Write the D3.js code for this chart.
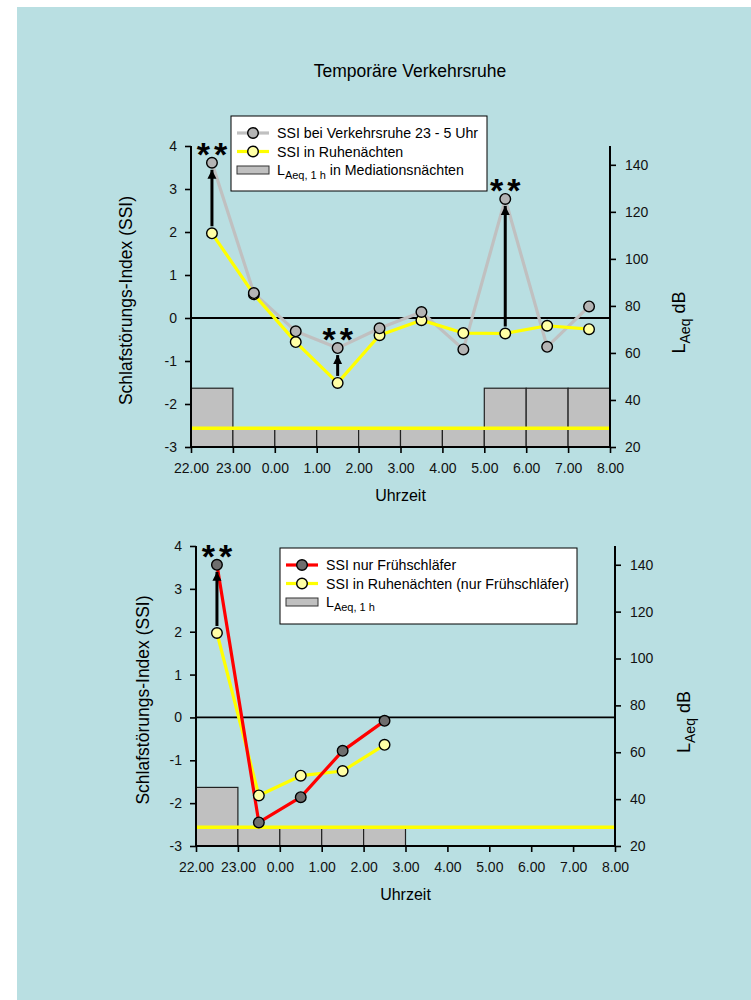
<!DOCTYPE html>
<html>
<head>
<meta charset="utf-8">
<script src="https://cdn.jsdelivr.net/npm/d3@7"></script>
<style>
  body { margin: 0; background: #fff; }
  svg { display: block; font-family: "Liberation Sans", Arial, sans-serif; }
</style>
</head>
<body>
<svg id="chart" width="751" height="1000"></svg>
<script>

// hour slots from 22.00 to 8.00, values sit in the middle of each hour
var tickLabels = ["22.00","23.00","0.00","1.00","2.00","3.00","4.00","5.00","6.00","7.00","8.00"];
var ssiTicks = [-3,-2,-1,0,1,2,3,4];
var dbTicks = [20,40,60,80,100,120,140];

// top panel
var ssiVerkehrsruhe = [3.61, 0.58, -0.31, -0.70, -0.24, 0.14, -0.73, 2.77, -0.67, 0.27];
var ssiRuhe = [1.97, 0.55, -0.56, -1.51, -0.40, -0.05, -0.35, -0.36, -0.18, -0.26];
var laeqMediation = [45, 28, 28, 28, 28, 28, 28, 45, 45, 45];
var sigTop = [0, 3, 7];

// bottom panel
var ssiFrueh = [3.56, -2.45, -1.86, -0.78, -0.08];
var ssiRuheFrueh = [1.97, -1.82, -1.36, -1.25, -0.64];
var laeqFrueh = [45, 28, 28, 28, 28];
var sigBottom = [0];

var ruhePegel = 28; // LAeq level of the quiet nights (yellow line)

var svg = d3.select('#chart');

svg.append('rect')
  .attr('x', 17).attr('y', 7)
  .attr('width', 751 - 17).attr('height', 1000 - 7)
  .attr('fill', '#b9dfe2');

svg.append('text')
  .attr('x', 410).attr('y', 77)
  .attr('text-anchor', 'middle')
  .attr('font-size', 17.5)
  .text('Temporäre Verkehrsruhe');

var defs = svg.append('defs');
defs.append('marker')
  .attr('id', 'arrow')
  .attr('viewBox', '0 0 10 10')
  .attr('refX', 10).attr('refY', 5)
  .attr('markerWidth', 3).attr('markerHeight', 3.6)
  .attr('markerUnits', 'strokeWidth')
  .attr('orient', 'auto')
  .append('path')
    .attr('d', 'M0,0 L10,5 L0,10 Z')
    .attr('fill', '#000');

function drawPanel(opt) {

  var g = svg.append('g');
  var x = d3.scaleLinear().domain([0, 10]).range([opt.left, opt.right]);
  var y = d3.scaleLinear().domain([-3, 4]).range([opt.bottom, opt.top]);
  var yDb = d3.scaleLinear().domain([20, 148]).range([opt.bottom, opt.top]);
  var cx = function(d, i) { return x(i + 0.5); };

  // LAeq bars
  g.selectAll('.bar')
    .data(opt.bars).enter()
    .append('rect')
      .attr('class', 'bar')
      .attr('x', function(d, i) { return x(i); })
      .attr('y', function(d) { return yDb(d); })
      .attr('width', x(1) - x(0))
      .attr('height', function(d) { return yDb(20) - yDb(d); })
      .attr('fill', '#c0c0c0')
      .attr('stroke', '#222')
      .attr('stroke-width', 1.2);

  // quiet night level
  g.append('line')
    .attr('x1', opt.left).attr('x2', opt.right)
    .attr('y1', yDb(ruhePegel)).attr('y2', yDb(ruhePegel))
    .attr('stroke', '#ffff00')
    .attr('stroke-width', 3.5);

  // zero line
  g.append('line')
    .attr('x1', opt.left).attr('x2', opt.right)
    .attr('y1', y(0)).attr('y2', y(0))
    .attr('stroke', '#000')
    .attr('stroke-width', 1.8);

  // axes
  var xAxis = g.append('g')
    .attr('transform', 'translate(0,' + opt.bottom + ')')
    .call(d3.axisBottom(x).tickValues(d3.range(0, 11))
      .tickFormat(function(d) { return tickLabels[d]; })
      .tickSize(6).tickPadding(10));
  var yAxis = g.append('g')
    .attr('transform', 'translate(' + opt.left + ',0)')
    .call(d3.axisLeft(y).tickValues(ssiTicks)
      .tickFormat(function(d) { return String(d); })
      .tickSize(6).tickPadding(8));
  var dbAxis = g.append('g')
    .attr('transform', 'translate(' + opt.right + ',0)')
    .call(d3.axisRight(yDb).tickValues(dbTicks)
      .tickSize(6).tickPadding(9));

  [xAxis, yAxis, dbAxis].forEach(function(a) {
    a.attr('font-family', null).attr('font-size', 14);
    a.selectAll('text').attr('fill', '#111');
    a.selectAll('path').attr('stroke', '#000').attr('stroke-width', 2);
    a.selectAll('line').attr('stroke', '#000').attr('stroke-width', 1.6);
  });
  // plain axis lines without end caps
  xAxis.select('.domain').attr('d', 'M' + opt.left + ',0H' + opt.right);
  yAxis.select('.domain').attr('d', 'M0,' + opt.top + 'V' + opt.bottom);
  dbAxis.select('.domain').attr('d', 'M0,' + opt.top + 'V' + opt.bottom);

  // axis titles
  g.append('text')
    .attr('x', (opt.left + opt.right) / 2).attr('y', opt.bottom + 54)
    .attr('text-anchor', 'middle')
    .attr('font-size', 16)
    .text('Uhrzeit');

  g.append('text')
    .attr('transform', 'translate(' + opt.yLabelX + ',' + ((opt.top + opt.bottom) / 2 + 4) + ') rotate(-90)')
    .attr('text-anchor', 'middle')
    .attr('font-size', 17.5)
    .text('Schlafstörungs-Index (SSI)');

  var dbLabel = g.append('text')
    .attr('transform', 'translate(' + opt.dbLabelX + ',' + ((opt.top + opt.bottom) / 2 + 57) + ') rotate(-90)')
    .attr('font-size', 18);
  dbLabel.append('tspan').text('L');
  dbLabel.append('tspan').attr('dy', 5).attr('font-size', 14).text('Aeq');
  dbLabel.append('tspan').attr('dy', -5).text(' dB');

  var line = d3.line()
    .x(function(d, i) { return x(i + 0.5); })
    .y(function(d) { return y(d); });

  // series lines
  opt.series.forEach(function(s) {
    g.append('path')
      .datum(s.values)
      .attr('d', line)
      .attr('fill', 'none')
      .attr('stroke', s.line)
      .attr('stroke-width', 3.2)
      .attr('stroke-linejoin', 'round');
  });

  // arrows from quiet nights up to the comparison value
  var lo = opt.series[opt.arrowFrom].values;
  var hi = opt.series[opt.arrowTo].values;
  g.selectAll('.arrow')
    .data(opt.sig).enter()
    .append('line')
      .attr('class', 'arrow')
      .attr('x1', function(i) { return x(i + 0.5); })
      .attr('x2', function(i) { return x(i + 0.5); })
      .attr('y1', function(i) { return y(lo[i]) - 7; })
      .attr('y2', function(i) { return y(hi[i]) + 7; })
      .attr('stroke', '#000')
      .attr('stroke-width', 3)
      .attr('marker-end', 'url(#arrow)');

  // markers (drawn in order so the later series sits on top)
  opt.markerOrder.forEach(function(k) {
    var s = opt.series[k];
    g.selectAll('.pt' + k)
      .data(s.values).enter()
      .append('circle')
        .attr('class', 'pt' + k)
        .attr('cx', cx)
        .attr('cy', function(d) { return y(d); })
        .attr('r', 5.3)
        .attr('fill', s.fill)
        .attr('stroke', '#000')
        .attr('stroke-width', 1.4);
  });

  // significance stars
  g.selectAll('.star')
    .data(opt.sig).enter()
    .append('text')
      .attr('class', 'star')
      .attr('x', function(i) { return x(i + 0.5) + 2; })
      .attr('y', function(i) { return y(hi[i]) + 3; })
      .attr('text-anchor', 'middle')
      .attr('font-size', 34)
      .attr('font-weight', 'bold')
      .attr('letter-spacing', 4)
      .text('**');

  // legend
  var lg = g.append('g').attr('transform', 'translate(' + opt.legend.x + ',' + opt.legend.y + ')');
  lg.append('rect')
    .attr('width', opt.legend.w).attr('height', opt.legend.h)
    .attr('fill', '#fff')
    .attr('stroke', '#000')
    .attr('stroke-width', 1);

  opt.legend.items.forEach(function(item, i) {
    var ly = 17 + i * 18.5;
    if (item.type == 'bar') {
      lg.append('rect')
        .attr('x', 6).attr('y', ly - 4)
        .attr('width', 32).attr('height', 8)
        .attr('fill', '#c0c0c0')
        .attr('stroke', '#333')
        .attr('stroke-width', 1);
    } else {
      lg.append('line')
        .attr('x1', 6).attr('x2', 38)
        .attr('y1', ly).attr('y2', ly)
        .attr('stroke', item.line)
        .attr('stroke-width', 3.2);
      lg.append('circle')
        .attr('cx', 22).attr('cy', ly)
        .attr('r', 5.3)
        .attr('fill', item.fill)
        .attr('stroke', '#000')
        .attr('stroke-width', 1.4);
    }
    var t = lg.append('text')
      .attr('x', 46).attr('y', ly + 5)
      .attr('font-size', 14.2);
    if (item.sub) {
      t.append('tspan').text('L');
      t.append('tspan').attr('dy', 4).attr('font-size', 11).text(item.sub);
      t.append('tspan').attr('dy', -4).text(item.label);
    } else {
      t.text(item.label);
    }
  });
}

var grey = { line: '#c0c0c0', fill: '#b4b4b4' };
var yellow = { line: '#ffff00', fill: '#ffffa6' };
var red = { line: '#ff0000', fill: '#6e6e6e' };

drawPanel({
  left: 191, right: 610, top: 146, bottom: 447,
  yLabelX: 132, dbLabelX: 685,
  bars: laeqMediation,
  series: [
    { values: ssiVerkehrsruhe, line: grey.line, fill: grey.fill },
    { values: ssiRuhe, line: yellow.line, fill: yellow.fill }
  ],
  markerOrder: [1, 0],
  arrowFrom: 1, arrowTo: 0,
  sig: sigTop,
  legend: {
    x: 231, y: 116, w: 256, h: 75,
    items: [
      { line: grey.line, fill: grey.fill, label: 'SSI bei Verkehrsruhe 23 - 5 Uhr' },
      { line: yellow.line, fill: yellow.fill, label: 'SSI in Ruhenächten' },
      { type: 'bar', sub: 'Aeq, 1 h', label: ' in Mediationsnächten' }
    ]
  }
});

drawPanel({
  left: 196, right: 615, top: 546, bottom: 846,
  yLabelX: 149, dbLabelX: 690,
  bars: laeqFrueh,
  series: [
    { values: ssiRuheFrueh, line: yellow.line, fill: yellow.fill },
    { values: ssiFrueh, line: red.line, fill: red.fill }
  ],
  markerOrder: [0, 1],
  arrowFrom: 0, arrowTo: 1,
  sig: sigBottom,
  legend: {
    x: 280, y: 548, w: 297, h: 76,
    items: [
      { line: red.line, fill: red.fill, label: 'SSI nur Frühschläfer' },
      { line: yellow.line, fill: yellow.fill, label: 'SSI in Ruhenächten (nur Frühschläfer)' },
      { type: 'bar', sub: 'Aeq, 1 h', label: '' }
    ]
  }
});

</script>
</body>
</html>
